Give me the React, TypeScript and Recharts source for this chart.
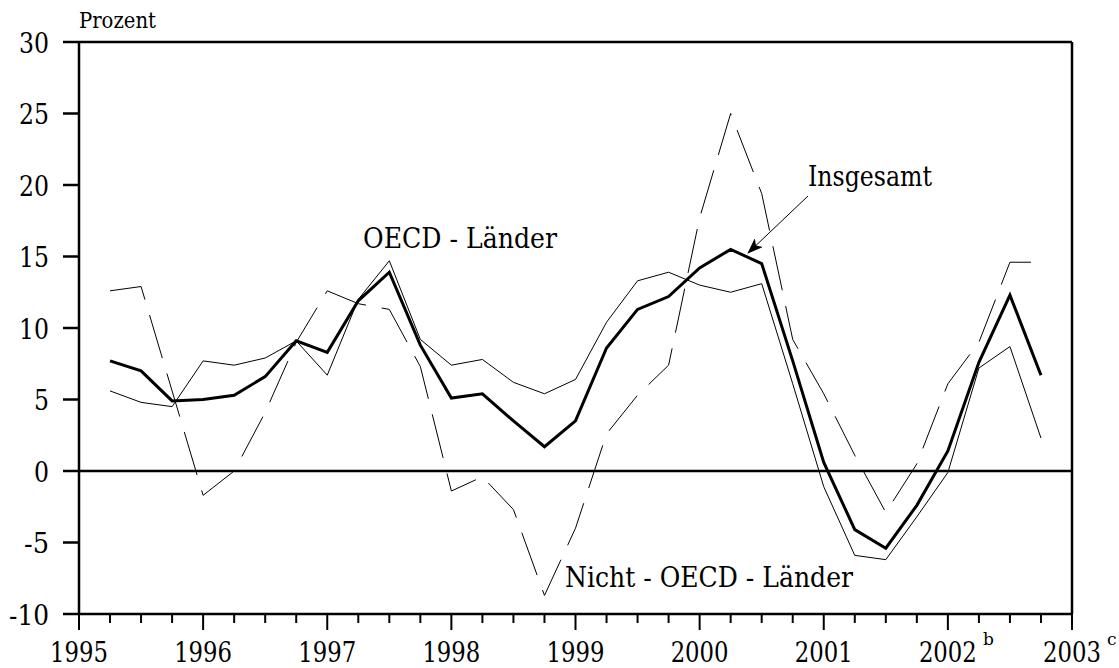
import React from 'react';
import { LineChart, Line, XAxis, YAxis, ReferenceLine } from 'recharts';

// quarterly positions (Q1 1995 drawn at 1995.25 ... Q3 2002 at 2002.75)
const quarters = [
  1995.25, 1995.5, 1995.75, 1996.0, 1996.25, 1996.5, 1996.75, 1997.0,
  1997.25, 1997.5, 1997.75, 1998.0, 1998.25, 1998.5, 1998.75, 1999.0,
  1999.25, 1999.5, 1999.75, 2000.0, 2000.25, 2000.5, 2000.75, 2001.0,
  2001.25, 2001.5, 2001.75, 2002.0, 2002.25, 2002.5, 2002.75,
];

const insgesamt = [
  7.7, 7.0, 4.9, 5.0, 5.3, 6.6, 9.1, 8.3, 11.9, 13.9, 8.8, 5.1, 5.4, 3.5, 1.7, 3.5,
  8.6, 11.3, 12.2, 14.2, 15.5, 14.5, 7.7, 0.6, -4.1, -5.4, -2.4, 1.4, 7.6, 12.3, 6.7,
];

const oecd = [
  5.6, 4.8, 4.5, 7.7, 7.4, 7.9, 9.1, 6.7, 12.0, 14.7, 9.2, 7.4, 7.8, 6.2, 5.4, 6.4,
  10.4, 13.3, 13.9, 13.0, 12.5, 13.1, 6.1, -1.1, -5.9, -6.2, -3.2, -0.1, 7.2, 8.7, 2.3,
];

const nichtOecd = [
  12.6, 12.9, 5.6, -1.7, 0.0, 4.1, 9.0, 12.6, 11.7, 11.3, 7.3, -1.4, -0.4, -2.7, -8.7, -4.0,
  2.6, 5.3, 7.4, 17.7, 25.0, 19.4, 9.2, 5.4, 1.1, -2.9, 0.5, 6.1, 9.0, 14.6, 14.6,
];

const years = [1995, 1996, 1997, 1998, 1999, 2000, 2001, 2002, 2003];
const yearSup: Record<number, string> = { 2002: 'b', 2003: 'c' };
const yTicks = [-10, -5, 0, 5, 10, 15, 20, 25, 30];

const xTicks = years.flatMap((y) => (y < 2003 ? [y, y + 0.25, y + 0.5, y + 0.75] : [y]));

const data = quarters.map((q, i) => ({
  q,
  insgesamt: insgesamt[i],
  oecd: oecd[i],
  nichtOecd: nichtOecd[i],
}));

// DejaVu Serif is wider than Times, so squeeze it to Times-like widths
const FONT = "'DejaVu Serif', serif";
const numWidth = (s: string, size: number) =>
  s.split('').reduce((w, c) => w + (c === '-' ? 0.333 : 0.5) * size, 0);

const txt = { fontFamily: FONT, fill: '#000' };

const XTick = (props: any) => {
  const { x, y, payload } = props;
  const v = payload.value as number;
  const isYear = Math.abs(v - Math.round(v)) < 1e-6;
  const yr = Math.round(v);
  const w = numWidth(String(yr), 29);
  return (
    <g>
      <line x1={x} x2={x} y1={y} y2={y + (isYear ? 16 : 9)} stroke="#000" strokeWidth={2} />
      {isYear && (
        <text x={x - w / 2} y={662} fontSize={28} style={txt}>
          <tspan textLength={w} lengthAdjust="spacingAndGlyphs">
            {yr}
          </tspan>
          {yearSup[yr] && (
            <tspan dx={6} dy={-17} fontSize={17}>
              {yearSup[yr]}
            </tspan>
          )}
        </text>
      )}
    </g>
  );
};

const YTick = (props: any) => {
  const { x, y, payload } = props;
  const s = String(payload.value);
  return (
    <text
      x={x}
      y={y + 10.5}
      textAnchor="end"
      fontSize={28.5}
      textLength={numWidth(s, 30)}
      lengthAdjust="spacingAndGlyphs"
      style={txt}
    >
      {s}
    </text>
  );
};

export default function App() {
  return (
    <div style={{ position: 'absolute', left: 0, top: 0, width: 1119, height: 668, background: '#fff' }}>
      <LineChart
        width={1119}
        height={668}
        data={data}
        margin={{ top: 42, right: 47, bottom: 0, left: 0 }}
      >
        <XAxis
          dataKey="q"
          type="number"
          domain={[1995, 2003]}
          ticks={xTicks}
          interval={0}
          height={54}
          tickSize={0}
          tickMargin={0}
          tickLine={false}
          tick={<XTick />}
          axisLine={{ stroke: '#000', strokeWidth: 2.5 }}
        />
        <YAxis
          type="number"
          domain={[-10, 30]}
          ticks={yTicks}
          interval={0}
          width={79}
          tickSize={16}
          tickMargin={14}
          tickLine={{ stroke: '#000', strokeWidth: 2.5 }}
          axisLine={{ stroke: '#000', strokeWidth: 2.5 }}
          tick={<YTick />}
        />
        <ReferenceLine y={30} stroke="#000" strokeWidth={2.5} />
        <ReferenceLine x={2003} stroke="#000" strokeWidth={2.5} />
        <ReferenceLine y={0} stroke="#000" strokeWidth={2.5} />
        <Line
          type="linear"
          dataKey="nichtOecd"
          stroke="#000"
          strokeWidth={1}
          strokeDasharray="45 16"
          dot={false}
          isAnimationActive={false}
        />
        <Line type="linear" dataKey="oecd" stroke="#000" strokeWidth={1} dot={false} isAnimationActive={false} />
        <Line type="linear" dataKey="insgesamt" stroke="#000" strokeWidth={3} dot={false} isAnimationActive={false} />
      </LineChart>
      <svg
        width={1119}
        height={668}
        style={{ position: 'absolute', left: 0, top: 0, pointerEvents: 'none' }}
      >
        <defs>
          <marker
            id="arrow"
            viewBox="0 0 16 12"
            refX="15"
            refY="6"
            markerWidth="16"
            markerHeight="12"
            markerUnits="userSpaceOnUse"
            orient="auto"
          >
            <path d="M0,0 L16,6 L0,12 L4,6 z" fill="#000" />
          </marker>
        </defs>
        <text x={79} y={28} fontSize={22} textLength={77} lengthAdjust="spacingAndGlyphs" style={txt}>
          Prozent
        </text>
        <text x={363} y={248} fontSize={28} textLength={194} lengthAdjust="spacingAndGlyphs" style={txt}>
          OECD - Länder
        </text>
        <text x={565} y={587} fontSize={28} textLength={288} lengthAdjust="spacingAndGlyphs" style={txt}>
          Nicht - OECD - Länder
        </text>
        <text x={808} y={186} fontSize={28} textLength={124} lengthAdjust="spacingAndGlyphs" style={txt}>
          Insgesamt
        </text>
        <line x1={808} y1={196} x2={748} y2={253} stroke="#000" strokeWidth={1} markerEnd="url(#arrow)" />
      </svg>
    </div>
  );
}
